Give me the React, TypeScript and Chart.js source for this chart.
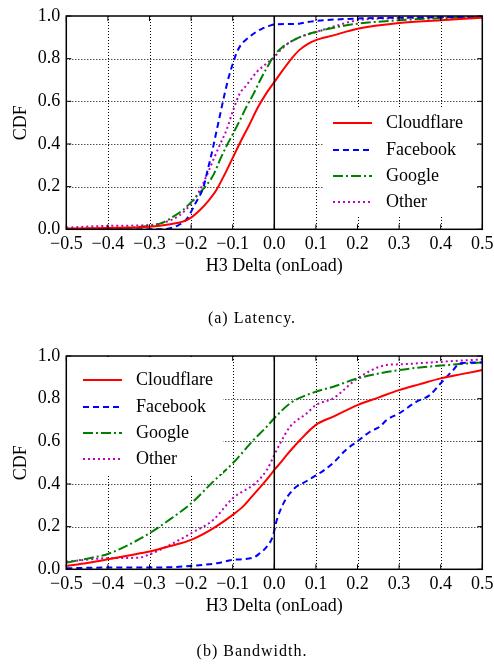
import React, { useEffect, useRef } from 'react';
import { Chart, registerables } from 'chart.js';

Chart.register(...registerables);

const FONT = '"Liberation Serif", "Times New Roman", serif';

const seriesNames = ['Cloudflare', 'Facebook', 'Google', 'Other'];
const seriesColors = ['#ff0000', '#0000ff', '#008000', '#bf00bf'];
const seriesDash: number[][] = [[], [6, 4], [10, 3, 2, 3], [2, 3]];

const xAxisTitle = 'H3 Delta (onLoad)';
const yAxisTitle = 'CDF';

// (a) Latency
const latCloudflareX = [-0.5, -0.4, -0.3, -0.25, -0.22, -0.2, -0.18, -0.16, -0.14, -0.12, -0.1, -0.08, -0.06, -0.04, -0.02, 0, 0.02, 0.04, 0.06, 0.08, 0.1, 0.14, 0.2, 0.3, 0.4, 0.5];
const latCloudflareY = [0.003, 0.006, 0.012, 0.024, 0.036, 0.055, 0.088, 0.13, 0.182, 0.255, 0.335, 0.415, 0.49, 0.57, 0.635, 0.69, 0.745, 0.797, 0.84, 0.868, 0.887, 0.908, 0.94, 0.967, 0.98, 0.992];
const latFacebookX = [-0.5, -0.27, -0.23, -0.21, -0.19, -0.17, -0.16, -0.15, -0.14, -0.13, -0.12, -0.11, -0.1, -0.09, -0.08, -0.07, -0.05, -0.03, -0.01, 0, 0.06, 0.08, 0.1, 0.2, 0.3, 0.5];
const latFacebookY = [0, 0, 0.02, 0.05, 0.12, 0.2, 0.28, 0.36, 0.45, 0.54, 0.63, 0.71, 0.775, 0.83, 0.865, 0.885, 0.917, 0.94, 0.955, 0.96, 0.964, 0.972, 0.977, 0.988, 0.992, 0.995];
const latGoogleX = [-0.5, -0.4, -0.3, -0.27, -0.243, -0.22, -0.195, -0.18, -0.163, -0.145, -0.131, -0.115, -0.099, -0.083, -0.067, -0.05, -0.034, -0.017, 0, 0.02, 0.038, 0.06, 0.1, 0.15, 0.2, 0.3, 0.4, 0.5];
const latGoogleY = [0.002, 0.005, 0.016, 0.03, 0.059, 0.09, 0.137, 0.17, 0.207, 0.26, 0.324, 0.39, 0.449, 0.51, 0.574, 0.635, 0.699, 0.76, 0.816, 0.855, 0.878, 0.9, 0.925, 0.948, 0.964, 0.98, 0.99, 0.995];
const latOtherX = [-0.5, -0.4, -0.3, -0.26, -0.227, -0.2, -0.179, -0.163, -0.147, -0.13, -0.115, -0.099, -0.083, -0.067, -0.042, -0.02, 0, 0.02, 0.038, 0.06, 0.1, 0.15, 0.2, 0.3, 0.5];
const latOtherY = [0.008, 0.016, 0.02, 0.035, 0.067, 0.12, 0.184, 0.25, 0.324, 0.4, 0.465, 0.558, 0.636, 0.675, 0.738, 0.775, 0.808, 0.85, 0.878, 0.9, 0.925, 0.955, 0.98, 0.99, 0.998];

// (b) Bandwidth
const bwCloudflareX = [-0.5, -0.45, -0.4, -0.35, -0.3, -0.25, -0.2, -0.147, -0.1, -0.075, -0.054, -0.026, -0.01, 0, 0.015, 0.03, 0.062, 0.1, 0.142, 0.2, 0.25, 0.3, 0.35, 0.4, 0.45, 0.5];
const bwCloudflareY = [0.016, 0.03, 0.047, 0.065, 0.083, 0.109, 0.138, 0.192, 0.255, 0.295, 0.341, 0.403, 0.44, 0.466, 0.5, 0.536, 0.606, 0.677, 0.716, 0.77, 0.805, 0.84, 0.868, 0.895, 0.915, 0.934];
const bwFacebookX = [-0.5, -0.4, -0.3, -0.25, -0.2, -0.139, -0.1, -0.05, -0.035, -0.018, -0.004, 0.006, 0.022, 0.046, 0.078, 0.1, 0.12, 0.142, 0.174, 0.2, 0.23, 0.254, 0.27, 0.3, 0.342, 0.374, 0.4, 0.43, 0.446, 0.5];
const bwFacebookY = [0.005, 0.008, 0.008, 0.01, 0.016, 0.028, 0.044, 0.055, 0.075, 0.106, 0.153, 0.231, 0.309, 0.375, 0.414, 0.44, 0.465, 0.5, 0.563, 0.6, 0.645, 0.669, 0.7, 0.731, 0.786, 0.817, 0.872, 0.934, 0.966, 0.97];
const bwGoogleX = [-0.5, -0.45, -0.4, -0.35, -0.3, -0.25, -0.2, -0.147, -0.1, -0.05, -0.018, 0, 0.038, 0.1, 0.142, 0.2, 0.3, 0.4, 0.5];
const bwGoogleY = [0.031, 0.05, 0.072, 0.115, 0.169, 0.235, 0.309, 0.411, 0.497, 0.606, 0.669, 0.708, 0.778, 0.833, 0.856, 0.895, 0.934, 0.955, 0.97];
const bwOtherX = [-0.5, -0.4, -0.324, -0.3, -0.259, -0.2, -0.147, -0.1, -0.046, -0.018, 0, 0.014, 0.038, 0.078, 0.1, 0.142, 0.2, 0.27, 0.3, 0.4, 0.5];
const bwOtherY = [0.036, 0.052, 0.055, 0.07, 0.106, 0.169, 0.231, 0.333, 0.403, 0.466, 0.536, 0.59, 0.669, 0.731, 0.77, 0.802, 0.895, 0.958, 0.961, 0.973, 0.984];

const zip = (xs: number[], ys: number[]) => xs.map((x, i) => ({ x, y: ys[i] }));

const fmt = (v: number) => {
  if (Math.abs(v) < 1e-9) return '0.0';
  return v < 0 ? '\u2212' + Math.abs(v).toFixed(1) : v.toFixed(1);
};

const framePlugin = {
  id: 'frame',
  beforeDatasetsDraw(chart: any) {
    const { ctx, chartArea: a, scales } = chart;
    ctx.save();
    ctx.strokeStyle = '#000';
    ctx.lineWidth = 1;
    ctx.setLineDash([1, 2]);
    scales.x.ticks.forEach((t: any) => {
      const px = Math.round(scales.x.getPixelForValue(t.value)) + 0.5;
      if (px <= a.left + 1 || px >= a.right - 1) return;
      ctx.beginPath();
      ctx.moveTo(px, a.top);
      ctx.lineTo(px, a.bottom);
      ctx.stroke();
    });
    scales.y.ticks.forEach((t: any) => {
      const py = Math.round(scales.y.getPixelForValue(t.value)) + 0.5;
      if (py <= a.top + 1 || py >= a.bottom - 1) return;
      ctx.beginPath();
      ctx.moveTo(a.left, py);
      ctx.lineTo(a.right, py);
      ctx.stroke();
    });
    ctx.restore();
  },
  afterDatasetsDraw(chart: any, _args: any, opts: any) {
    const { ctx, chartArea: a, scales } = chart;
    ctx.save();
    ctx.setLineDash([]);
    ctx.strokeStyle = '#000';
    const zx = scales.x.getPixelForValue(0);
    ctx.lineWidth = 1.5;
    ctx.beginPath();
    ctx.moveTo(zx, a.top);
    ctx.lineTo(zx, a.bottom);
    ctx.stroke();
    ctx.lineWidth = 1;
    const tl = 5;
    scales.x.ticks.forEach((t: any) => {
      const px = scales.x.getPixelForValue(t.value);
      ctx.beginPath();
      ctx.moveTo(px, a.bottom);
      ctx.lineTo(px, a.bottom - tl);
      ctx.moveTo(px, a.top);
      ctx.lineTo(px, a.top + tl);
      ctx.stroke();
    });
    scales.y.ticks.forEach((t: any) => {
      const py = scales.y.getPixelForValue(t.value);
      ctx.beginPath();
      ctx.moveTo(a.left, py);
      ctx.lineTo(a.left + tl, py);
      ctx.moveTo(a.right, py);
      ctx.lineTo(a.right - tl, py);
      ctx.stroke();
    });
    const L = opts.legend;
    if (L) {
      ctx.fillStyle = '#fff';
      ctx.fillRect(L.x0, L.y0, L.x1 - L.x0, L.y1 - L.y0);
      chart.data.datasets.forEach((ds: any, i: number) => {
        const y = L.rows[i];
        ctx.strokeStyle = ds.borderColor;
        ctx.lineWidth = 2;
        ctx.setLineDash(ds.borderDash || []);
        ctx.beginPath();
        ctx.moveTo(L.lx0, y);
        ctx.lineTo(L.lx1, y);
        ctx.stroke();
        ctx.setLineDash([]);
        ctx.fillStyle = '#000';
        ctx.font = '18px ' + FONT;
        ctx.textAlign = 'left';
        ctx.textBaseline = 'middle';
        ctx.fillText(ds.label, L.tx, y);
      });
    }
    ctx.setLineDash([]);
    ctx.strokeStyle = '#000';
    ctx.lineWidth = 1.5;
    ctx.strokeRect(a.left, a.top, a.right - a.left, a.bottom - a.top);
    ctx.restore();
  },
};

function makeConfig(series: { x: number[]; y: number[] }[], legend: any, padTop: number, padBottom: number) {
  return {
    type: 'line' as const,
    data: {
      datasets: series.map((s, i) => ({
        label: seriesNames[i],
        data: zip(s.x, s.y),
        borderColor: seriesColors[i],
        backgroundColor: seriesColors[i],
        borderDash: seriesDash[i],
        borderWidth: 2,
        pointRadius: 0,
        fill: false,
        cubicInterpolationMode: 'monotone' as const,
      })),
    },
    options: {
      animation: false as const,
      responsive: false,
      events: [],
      layout: { padding: { top: padTop, right: 11.7, bottom: padBottom, left: 0 } },
      plugins: {
        legend: { display: false },
        tooltip: { enabled: false },
        frame: { legend },
      },
      scales: {
        x: {
          type: 'linear' as const,
          min: -0.5,
          max: 0.5,
          grid: { display: false, drawTicks: false },
          border: { display: false },
          ticks: {
            stepSize: 0.1,
            autoSkip: false,
            maxRotation: 0,
            padding: 4,
            color: '#000',
            font: { family: FONT, size: 18 },
            callback: (v: any) => fmt(Number(v)),
          },
          title: {
            display: true,
            text: xAxisTitle,
            color: '#000',
            font: { family: FONT, size: 18 },
            padding: { top: 0, bottom: 7 },
          },
          afterFit: (s: any) => {
            s.height = 55;
            s.paddingLeft = 0;
            s.paddingRight = 0;
          },
        },
        y: {
          type: 'linear' as const,
          min: 0,
          max: 1,
          grid: { display: false, drawTicks: false },
          border: { display: false },
          ticks: {
            stepSize: 0.2,
            padding: 6,
            color: '#000',
            font: { family: FONT, size: 18 },
            callback: (v: any) => fmt(Number(v)),
          },
          title: {
            display: true,
            text: yAxisTitle,
            color: '#000',
            font: { family: FONT, size: 18 },
            padding: { top: 10, bottom: 0 },
          },
          afterFit: (s: any) => {
            s.width = 66.3;
            s.paddingTop = 0;
            s.paddingBottom = 0;
          },
        },
      },
    },
    plugins: [framePlugin],
  };
}

function ChartCanvas({ config, width, height }: { config: any; width: number; height: number }) {
  const ref = useRef<HTMLCanvasElement | null>(null);
  useEffect(() => {
    if (!ref.current) return;
    const chart = new Chart(ref.current, config);
    return () => chart.destroy();
  }, []);
  return <canvas ref={ref} width={width} height={height} style={{ display: 'block', width, height }} />;
}

const latencyConfig = makeConfig(
  [
    { x: latCloudflareX, y: latCloudflareY },
    { x: latFacebookX, y: latFacebookY },
    { x: latGoogleX, y: latGoogleY },
    { x: latOtherX, y: latOtherY },
  ],
  { x0: 323, x1: 477, y0: 108, y1: 215, lx0: 333, lx1: 372, tx: 386, rows: [123, 150, 176, 202] },
  16,
  45.7
);

const bandwidthConfig = makeConfig(
  [
    { x: bwCloudflareX, y: bwCloudflareY },
    { x: bwFacebookX, y: bwFacebookY },
    { x: bwGoogleX, y: bwGoogleY },
    { x: bwOtherX, y: bwOtherY },
  ],
  { x0: 67, x1: 223, y0: 27, y1: 144, lx0: 83, lx1: 122, tx: 136, rows: [50, 77, 103, 129] },
  26,
  43.7
);

const captionStyle: React.CSSProperties = {
  position: 'absolute',
  left: 10,
  width: 484,
  textAlign: 'center',
  fontFamily: FONT,
  fontSize: 16,
  letterSpacing: '1px',
  color: '#000',
  lineHeight: '18px',
};

export default function App() {
  return (
    <div style={{ position: 'fixed', left: 0, top: 0, width: 494, height: 668, background: '#fff', overflow: 'hidden' }}>
      <div style={{ position: 'absolute', left: 0, top: 0 }}>
        <ChartCanvas config={latencyConfig} width={494} height={330} />
      </div>
      <div style={{ ...captionStyle, top: 309 }}>(a) Latency.</div>
      <div style={{ position: 'absolute', left: 0, top: 330 }}>
        <ChartCanvas config={bandwidthConfig} width={494} height={338} />
      </div>
      <div style={{ ...captionStyle, top: 642 }}>(b) Bandwidth.</div>
    </div>
  );
}
